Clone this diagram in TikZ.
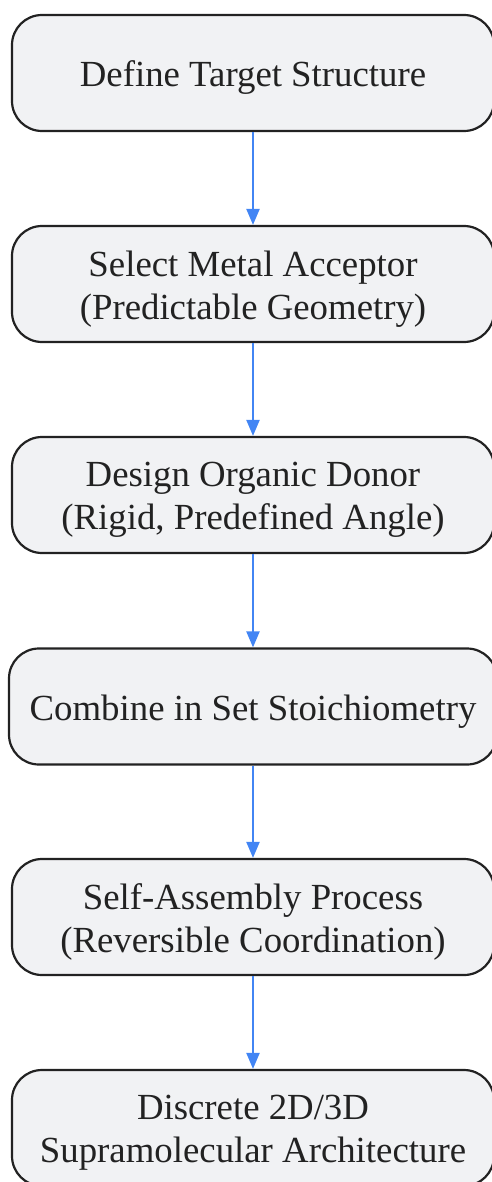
\documentclass[tikz,border=0pt]{standalone}
\usepackage{fontspec}
\setmainfont{Liberation Serif}
\usetikzlibrary{arrows.meta}
\definecolor{boxfill}{HTML}{F1F2F4}
\definecolor{boxline}{HTML}{222222}
\definecolor{arrowblue}{HTML}{4285F4}
\tikzset{
  stepbox/.style={draw=boxline, fill=boxfill, line width=2.2pt, rounded corners=30pt,
    minimum width=482pt, minimum height=116pt, inner sep=0pt},
  steptext/.style={inner sep=0pt, align=center, text=boxline, yshift=-5pt,
    font=\fontsize{36.8}{43}\selectfont},
  flow/.style={draw=arrowblue, line width=2.2pt, -{Triangle[length=16pt,width=13pt]}}
}
\begin{document}
\begin{tikzpicture}[x=1pt,y=-1pt]
\useasboundingbox (0,0) rectangle (491,1182);
\node[stepbox] (a) at (253,73) {};
\node[stepbox] (b) at (253,284) {};
\node[stepbox] (c) at (253,495) {};
\node[stepbox, minimum width=488pt] (d) at (253,706.5) {};
\node[stepbox] (e) at (253,917) {};
\node[stepbox] (f) at (253,1128) {};
\node[steptext] (at) at (a.center) {Define Target Structure};
\node[steptext] (bt) at (b.center) {Select Metal Acceptor\\(Predictable Geometry)};
\node[steptext] (ct) at (c.center) {Design Organic Donor\\(Rigid, Predefined Angle)};
\node[steptext] (dt) at (d.center) {Combine in Set Stoichiometry};
\node[steptext] (et) at (e.center) {Self-Assembly Process\\(Reversible Coordination)};
\node[steptext] (ft) at (f.center) {Discrete 2D/3D\\Supramolecular Architecture};
\draw[flow] (a) -- (b);
\draw[flow] (b) -- (c);
\draw[flow] (c) -- (d);
\draw[flow] (d) -- (e);
\draw[flow] (e) -- (f);
\end{tikzpicture}
\end{document}
